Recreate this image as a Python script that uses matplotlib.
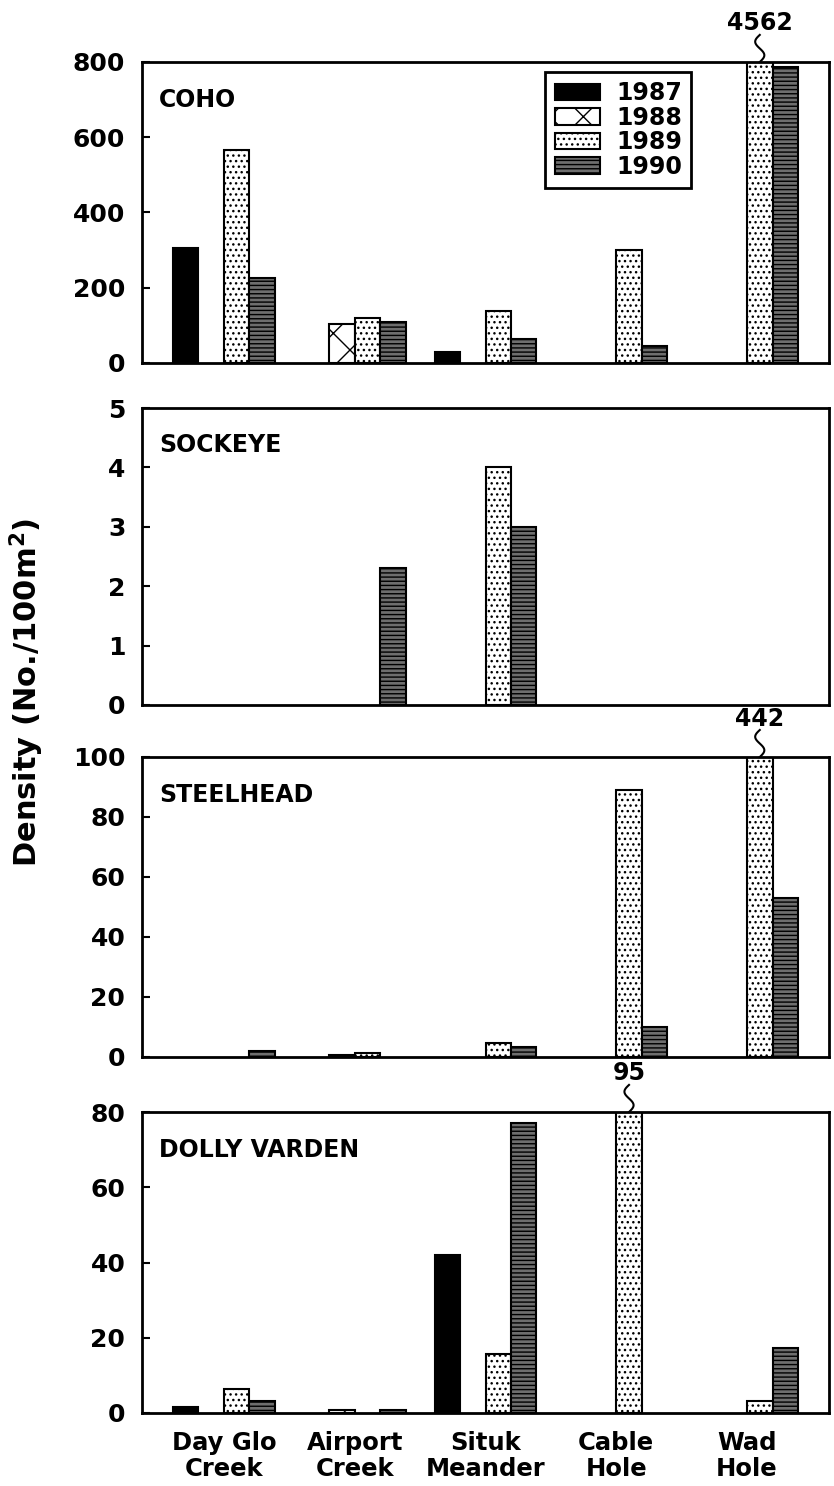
import numpy as np
import matplotlib
matplotlib.use('Agg')
import matplotlib.pyplot as plt
from matplotlib.transforms import blended_transform_factory

sites = ['Day Glo\nCreek', 'Airport\nCreek', 'Situk\nMeander', 'Cable\nHole', 'Wad\nHole']
years = ['1987', '1988', '1989', '1990']
nan = np.nan

# rows = years (1987..1990), columns = sites
coho = [
    [305, nan, 28, nan, nan],
    [nan, 104, nan, nan, nan],
    [565, 119, 139, 301, 4562],
    [226, 110, 65, 46, 786],
]
sockeye = [
    [nan, nan, nan, nan, nan],
    [nan, nan, nan, nan, nan],
    [nan, nan, 4.0, nan, nan],
    [nan, 2.3, 3.0, nan, nan],
]
steelhead = [
    [nan, nan, nan, nan, nan],
    [nan, 0.8, nan, nan, nan],
    [nan, 1.2, 4.7, 89, 442],
    [2.0, nan, 3.5, 10, 53],
]
dolly = [
    [1.5, nan, 42, nan, nan],
    [nan, 0.7, nan, nan, nan],
    [6.5, nan, 15.7, 95, 3.1],
    [3.1, 0.8, 77.2, nan, 17.4],
]

species = ['COHO', 'SOCKEYE', 'STEELHEAD', 'DOLLY VARDEN']
ymax = [800, 5, 100, 80]
ystep = [200, 1, 20, 20]

faces = ['black', 'white', 'white', '#6e6e6e']
hatches = [None, 'x', '...', '----']

plt.rcParams['font.family'] = 'DejaVu Sans'
plt.rcParams['font.weight'] = 'bold'
plt.rcParams['hatch.linewidth'] = 1.0

fig = plt.figure(figsize=(8.34, 14.86), dpi=100)
W, H = 834, 1486
left, right = 142, 829
panels = [(62, 363), (408, 705), (757, 1057), (1112, 1413)]  # top, bottom in px

x = np.arange(len(sites))
bw = 0.195

for k, (name, data) in enumerate(zip(species, [coho, sockeye, steelhead, dolly])):
    top_px, bot_px = panels[k]
    ax = fig.add_axes([left / W, 1 - bot_px / H, (right - left) / W, (bot_px - top_px) / H])
    for i, yr in enumerate(years):
        v = np.array(data[i], dtype=float)
        m = ~np.isnan(v)
        ax.bar(x[m] + (i - 1.5) * bw, v[m], bw, facecolor=faces[i], hatch=hatches[i],
               edgecolor='black', linewidth=1.5, label=yr)
    ax.set_xlim(-0.627, 4.627)
    ax.set_ylim(0, ymax[k])
    ax.set_yticks(np.arange(0, ymax[k] + ystep[k] / 2, ystep[k]))
    ax.tick_params(axis='y', direction='in', length=6, width=1.5, labelsize=18, pad=12)
    for s in ax.spines.values():
        s.set_linewidth(2)
    ax.text(0.025, 0.915, name, transform=ax.transAxes, ha='left', va='top', fontsize=17)

    # broken bars: value printed above the axes with a squiggle
    trans = blended_transform_factory(ax.transData, ax.transAxes)
    t = np.linspace(0, 1, 40)
    for i in range(len(years)):
        for j, val in enumerate(data[i]):
            if not np.isnan(val) and val > ymax[k]:
                xc = x[j] + (i - 1.5) * bw
                ax.plot(xc + 0.035 * np.sin(2 * np.pi * t), 1 + 0.09 * t, transform=trans,
                        color='black', lw=1.5, clip_on=False)
                ax.text(xc, 1.105, f'{val:g}', transform=trans, ha='center', va='baseline',
                        fontsize=17)

    if k == 0:
        ax.legend(loc='upper left', bbox_to_anchor=(0.587, 0.967), fontsize=17,
                  frameon=True, fancybox=False, edgecolor='black', framealpha=1,
                  handlelength=1.9, handleheight=0.7, handletextpad=0.7,
                  labelspacing=0.02, borderpad=0.4, borderaxespad=0).get_frame().set_linewidth(2)

    if k == len(species) - 1:
        ax.set_xticks(x)
        ax.set_xticklabels(sites, fontsize=17.5, linespacing=1.1)
        ax.tick_params(axis='x', length=0, pad=13)
    else:
        ax.set_xticks([])

fig.text(27 / W, 1 - 692 / H, 'Density (No./100m$^{\\mathbf{2}}$)', rotation=90,
         ha='center', va='center', fontsize=22)

fig.savefig('out.png', dpi=100)
